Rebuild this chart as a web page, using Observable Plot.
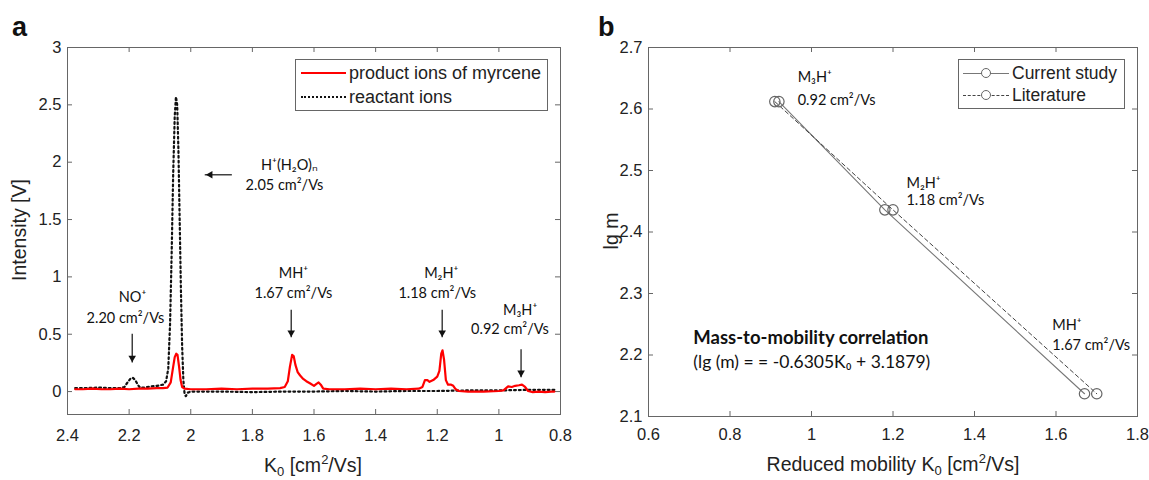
<!DOCTYPE html>
<html>
<head>
<meta charset="utf-8">
<script src="https://cdn.jsdelivr.net/npm/d3@7"></script>
<script src="https://cdn.jsdelivr.net/npm/@observablehq/plot@0.6"></script>
<style>
  html, body { margin: 0; padding: 0; background: #fff; }
  #wrap { position: relative; width: 1149px; height: 480px; font-family: "Liberation Sans", Arial, sans-serif; color: #222; }
  #wrap svg { position: absolute; top: 0; }
  .ov { position: absolute; white-space: nowrap; font-size: 19.5px; }
  .letter { font-weight: bold; font-size: 27px; color: #111; }
  .ttl { transform: translate(-50%, -50%); }
  .rot { transform: translate(-50%, -50%) rotate(-90deg); }
  sub, sup { font-size: 13px; line-height: 0; }
  .legend { position: absolute; border: 1px solid #666; background: #fff; box-sizing: border-box; }
  .legend .row { position: absolute; left: 0; height: 22px; width: 100%; }
  .legend .txt { position: absolute; top: 0; line-height: 22px; white-space: nowrap; }
  .legend .ln { position: absolute; top: 11px; }
  .legend .circ { position: absolute; width: 8px; height: 8px; border: 1px solid #666; border-radius: 50%; background: #fff; top: 6px; }
</style>
</head>
<body>
<div id="wrap"></div>
<script>
// ---------- Panel a data: IMS spectra ----------
const productK = [2.375,2.35,2.32,2.29,2.26,2.23,2.20,2.17,2.14,2.11,2.09,2.075,2.065,2.058,2.052,2.047,2.043,2.038,2.033,2.028,2.02,2.00,1.95,1.90,1.85,1.80,1.75,1.71,1.695,1.685,1.678,1.671,1.666,1.66,1.653,1.645,1.635,1.625,1.612,1.60,1.593,1.585,1.578,1.57,1.55,1.50,1.45,1.40,1.35,1.30,1.26,1.248,1.24,1.232,1.225,1.213,1.20,1.193,1.187,1.183,1.178,1.172,1.165,1.155,1.148,1.14,1.13,1.10,1.05,1.00,0.985,0.97,0.958,0.947,0.935,0.925,0.915,0.905,0.89,0.87,0.85,0.83,0.82];
const productV = [0.02,0.02,0.025,0.02,0.02,0.025,0.02,0.025,0.025,0.03,0.03,0.035,0.08,0.2,0.30,0.33,0.32,0.22,0.10,0.04,0.025,0.02,0.02,0.025,0.02,0.025,0.025,0.03,0.04,0.09,0.22,0.32,0.31,0.23,0.17,0.14,0.11,0.09,0.07,0.05,0.065,0.08,0.06,0.025,0.02,0.02,0.025,0.02,0.025,0.02,0.025,0.04,0.10,0.10,0.085,0.10,0.13,0.18,0.33,0.36,0.28,0.10,0.06,0.06,0.05,0.02,0.005,0.0,0.0,0.005,0.01,0.045,0.04,0.05,0.055,0.06,0.04,0.005,-0.005,0.0,-0.005,0.0,0.0];
const reactantK = [2.375,2.34,2.30,2.26,2.23,2.215,2.205,2.195,2.188,2.18,2.172,2.165,2.15,2.13,2.11,2.09,2.08,2.073,2.067,2.062,2.057,2.052,2.048,2.044,2.04,2.036,2.032,2.028,2.024,2.02,2.016,2.01,2.00,1.90,1.80,1.70,1.60,1.50,1.40,1.30,1.20,1.10,1.00,0.90,0.82];
const reactantV = [0.03,0.03,0.035,0.03,0.03,0.04,0.08,0.115,0.12,0.10,0.06,0.035,0.035,0.045,0.05,0.06,0.09,0.2,0.6,1.2,1.9,2.4,2.57,2.5,2.1,1.5,0.9,0.4,0.1,-0.02,-0.04,-0.01,0.0,0.0,-0.005,0.0,0.0,0.005,0.0,0.005,0.005,0.01,0.01,0.015,0.015];
const aXTicks = [2.4,2.2,2,1.8,1.6,1.4,1.2,1,0.8];
const aYTicks = [0,0.5,1,1.5,2,2.5,3];
const aLabelK = [2.189,2.212,1.667,1.667,1.187,1.20,0.931,0.964,1.680,1.696];
const aLabelV = [0.82,0.64,1.03,0.86,1.03,0.86,0.71,0.54,1.97,1.80];
const aLabelT = ["NO⁺","2.20 cm²/Vs","MH⁺","1.67 cm²/Vs","M₂H⁺","1.18 cm²/Vs","M₃H⁺","0.92 cm²/Vs","H⁺(H₂O)ₙ","2.05 cm²/Vs"];
const aDownArrowK = [2.19,1.674,1.184,0.928];
const aDownArrowFrom = [0.50,0.71,0.71,0.365];
const aDownArrowTo = [0.25,0.47,0.47,0.12];
const aLeftArrow = {y: 1.89, from: 1.865, to: 1.953};

// ---------- Panel b data: mass-mobility ----------
const kCurrent = [0.92,1.18,1.67];
const kLiterature = [0.91,1.20,1.70];
const lgM = [2.612,2.436,2.137];
const bXTicks = [0.6,0.8,1,1.2,1.4,1.6,1.8];
const bYTicks = [2.1,2.2,2.3,2.4,2.5,2.6,2.7];
const bLabelK = [0.966,0.966,1.233,1.233,1.591,1.591];
const bLabelY = [2.651,2.614,2.479,2.451,2.248,2.215];
const bLabelT = ["M₃H⁺","0.92 cm²/Vs","M₂H⁺","1.18 cm²/Vs","MH⁺","1.67 cm²/Vs"];
const corrTitle = {x: 0.71, y: 2.227, t: "Mass-to-mobility correlation"};
const corrEquation = {x: 0.71, y: 2.188, t: "(lg (m) = = -0.6305K₀ + 3.1879)"};

const rows = (xs, ys) => xs.map((x, i) => ({x, y: ys[i]}));
const productData = rows(productK, productV);
const reactantData = rows(reactantK, reactantV);
const aLabels = aLabelK.map((x, i) => ({x, y: aLabelV[i], t: aLabelT[i]}));
const aArrows = aDownArrowK.map((x, i) => ({x, y1: aDownArrowFrom[i], y2: aDownArrowTo[i]}));
const currentData = rows(kCurrent, lgM);
const literatureData = rows(kLiterature, lgM);
const bLabels = bLabelK.map((x, i) => ({x, y: bLabelY[i], t: bLabelT[i]}));

const axisStyle = {fontFamily: "Liberation Sans, Arial, sans-serif", fontSize: "16px", color: "#222", background: "transparent", overflow: "visible"};
const annFont = "Lato, 'Open Sans', sans-serif";
const fmt = d => String(d);
const frameColor = "#666";

function inwardTicks(xt, yt, innerW, innerH) {
  return [
    Plot.tickX(xt, {x: d => d, insetTop: innerH - 5, stroke: frameColor}),
    Plot.tickX(xt, {x: d => d, insetBottom: innerH - 5, stroke: frameColor}),
    Plot.tickY(yt, {y: d => d, insetRight: innerW - 5, stroke: frameColor}),
    Plot.tickY(yt, {y: d => d, insetLeft: innerW - 5, stroke: frameColor})
  ];
}

// ---------- Panel a ----------
const aW = 580, aH = 480, aML = 67, aMR = 20, aMT = 47, aMB = 66;
const chartA = Plot.plot({
  width: aW, height: aH,
  marginLeft: aML, marginRight: aMR, marginTop: aMT, marginBottom: aMB,
  x: {domain: [2.4, 0.8]},
  y: {domain: [-0.2, 3]},
  style: axisStyle,
  marks: [
    Plot.axisX(aXTicks, {tickSize: 0, tickPadding: 15, tickFormat: fmt, label: null, fontSize: 16.5}),
    Plot.axisY(aYTicks, {tickSize: 0, tickPadding: 6, tickFormat: fmt, label: null, fontSize: 16.5}),
    ...inwardTicks(aXTicks, aYTicks, aW - aML - aMR, aH - aMT - aMB),
    Plot.line(reactantData, {x: "x", y: "y", stroke: "#111", strokeWidth: 2.2, strokeDasharray: "1.8,3"}),
    Plot.line(productData, {x: "x", y: "y", stroke: "#ff0000", strokeWidth: 2.2}),
    Plot.text(aLabels, {x: "x", y: "y", text: "t", fontFamily: annFont, fontSize: 14.5, fill: "#111"}),
    Plot.ruleX(aArrows, {x: "x", y1: "y1", y2: "y2", stroke: "#111", strokeWidth: 1.2}),
    Plot.dot(aArrows, {x: "x", y: "y2", symbol: "triangle2", r: 3.6, rotate: 180, fill: "#111", dy: -5}),
    Plot.ruleY([aLeftArrow], {y: "y", x1: "from", x2: "to", stroke: "#111", strokeWidth: 1.2}),
    Plot.dot([aLeftArrow], {x: "to", y: "y", symbol: "triangle2", r: 3.6, rotate: 270, fill: "#111", dx: 5}),
    Plot.frame({stroke: frameColor})
  ]
});
chartA.style.left = "0px";

// ---------- Panel b ----------
const bW = 569, bH = 480, bML = 68, bMR = 12, bMT = 47, bMB = 64;
const chartB = Plot.plot({
  width: bW, height: bH,
  marginLeft: bML, marginRight: bMR, marginTop: bMT, marginBottom: bMB,
  x: {domain: [0.6, 1.8]},
  y: {domain: [2.1, 2.7]},
  style: axisStyle,
  marks: [
    Plot.axisX(bXTicks, {tickSize: 0, tickPadding: 12, tickFormat: fmt, label: null, fontSize: 16.5}),
    Plot.axisY(bYTicks, {tickSize: 0, tickPadding: 6, tickFormat: fmt, label: null, fontSize: 16.5}),
    ...inwardTicks(bXTicks, bYTicks, bW - bML - bMR, bH - bMT - bMB),
    Plot.line(currentData, {x: "x", y: "y", stroke: "#777", strokeWidth: 1.1}),
    Plot.line(literatureData, {x: "x", y: "y", stroke: "#444", strokeWidth: 1, strokeDasharray: "4,3"}),
    Plot.dot(currentData, {x: "x", y: "y", r: 5.2, stroke: "#666", strokeWidth: 1.2, fill: "none"}),
    Plot.dot(literatureData, {x: "x", y: "y", r: 5.2, stroke: "#666", strokeWidth: 1.2, fill: "none"}),
    Plot.text(bLabels, {x: "x", y: "y", text: "t", textAnchor: "start", fontFamily: annFont, fontSize: 14.5, fill: "#111"}),
    Plot.text([corrTitle], {x: "x", y: "y", text: "t", textAnchor: "start", fontFamily: annFont, fontSize: 18.5, fontWeight: "bold", fill: "#111"}),
    Plot.text([corrEquation], {x: "x", y: "y", text: "t", textAnchor: "start", fontFamily: annFont, fontSize: 17.5, fill: "#111"}),
    Plot.frame({stroke: frameColor})
  ]
});
chartB.style.left = "580px";

const wrap = document.getElementById("wrap");
wrap.appendChild(chartA);
wrap.appendChild(chartB);

const overlay = `
  <div class="ov letter" style="left:12px; top:12px;">a</div>
  <div class="ov letter" style="left:598px; top:12px;">b</div>
  <div class="ov rot" style="left:19px; top:230px;">Intensity [V]</div>
  <div class="ov ttl" style="left:313px; top:465px;">K<sub>0</sub> [cm<sup>2</sup>/Vs]</div>
  <div class="ov rot" style="left:611px; top:231px;">lg m</div>
  <div class="ov ttl" style="left:893px; top:464px;">Reduced mobility K<sub>0</sub> [cm<sup>2</sup>/Vs]</div>
  <div class="legend" style="left:295px; top:59px; width:253px; height:52px; font-size:18px;">
    <div class="row" style="top:2px;">
      <div class="ln" style="left:5px; width:45px; border-top:2px solid #ff0000; top:10px;"></div>
      <div class="txt" style="left:53px;">product ions of myrcene</div>
    </div>
    <div class="row" style="top:26px;">
      <div class="ln" style="left:5px; width:45px; border-top:2px dotted #111; top:10px;"></div>
      <div class="txt" style="left:53px;">reactant ions</div>
    </div>
  </div>
  <div class="legend" style="left:958px; top:59px; width:167px; height:50px; font-size:17.5px;">
    <div class="row" style="top:2px;">
      <div class="ln" style="left:4px; width:46px; border-top:1px solid #777;"></div>
      <div class="circ" style="left:22px;"></div>
      <div class="txt" style="left:53px;">Current study</div>
    </div>
    <div class="row" style="top:24px;">
      <div class="ln" style="left:4px; width:46px; border-top:1px dashed #444;"></div>
      <div class="circ" style="left:22px;"></div>
      <div class="txt" style="left:53px;">Literature</div>
    </div>
  </div>`;
wrap.insertAdjacentHTML("beforeend", overlay);
</script>
</body>
</html>
